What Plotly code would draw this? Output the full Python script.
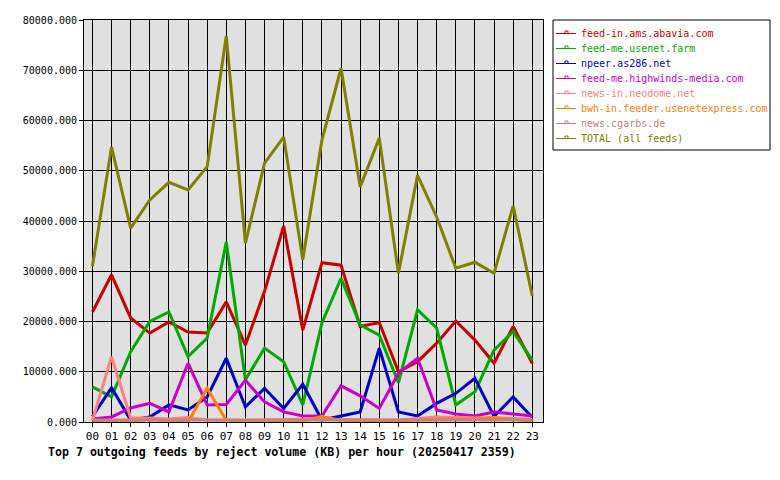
import plotly.graph_objects as go

hours = list(range(24))
hour_labels = [f"{h:02d}" for h in hours]

names = [
    "feed-in.ams.abavia.com",
    "feed-me.usenet.farm",
    "npeer.as286.net",
    "feed-me.highwinds-media.com",
    "news-in.neodome.net",
    "bwh-in.feeder.usenetexpress.com",
    "news.cgarbs.de",
    "TOTAL (all feeds)",
]
colors = ["#cc0000", "#00aa00", "#0000cc", "#cc00cc", "#ff8080", "#ff8000", "#c88080", "#808000"]

abavia = [21900, 29300, 20700, 17700, 19900, 17900, 17700, 23900, 15300, 26000, 39000, 18300,
          31700, 31200, 19000, 19800, 10000, 12000, 15700, 20100, 16300, 11700, 19000, 11700]
usenetfarm = [7000, 5000, 14000, 20000, 21900, 13000, 16700, 35800, 8400, 14700, 12000, 3400,
              19700, 28600, 19300, 17300, 7800, 22300, 18700, 3400, 6000, 14300, 18000, 12300]
as286 = [1100, 6800, 400, 1000, 3400, 2400, 5000, 12700, 3000, 6700, 2700, 7500,
         400, 1200, 2000, 14700, 2000, 1200, 3700, 5700, 8700, 1100, 5000, 900]
highwinds = [600, 1000, 2800, 3700, 2000, 11700, 3400, 3500, 8300, 4000, 2000, 1200,
             1200, 7200, 5200, 2700, 9700, 12700, 2400, 1600, 1200, 2000, 1600, 1200]
neodome = [300, 13000, 800, 800, 600, 900, 400, 300, 300, 400, 500, 600,
           600, 500, 400, 400, 400, 700, 1000, 900, 800, 800, 600, 600]
usenetexpress = [0, 300, 200, 500, 200, 0, 6700, 300, 100, 200, 300, 200,
                 1100, 300, 100, 300, 200, 400, 500, 500, 600, 900, 500, 200]
cgarbs = [400, 400, 350, 400, 350, 400, 400, 350, 400, 350, 400, 400,
          350, 400, 350, 400, 350, 400, 400, 400, 400, 350, 350, 400]
total = [31000, 54700, 38600, 44200, 47700, 46200, 50800, 76800, 35600, 51500, 56700, 32300,
         56100, 70400, 46800, 56500, 29600, 49100, 40800, 30600, 31800, 29600, 43000, 25100]

series = [abavia, usenetfarm, as286, highwinds, neodome, usenetexpress, cgarbs, total]

# plot area in pixels
L, R, T, B = 84, 543, 20, 422
W, H = 780, 480


def px(x):
    return (x - L) / (R - L)


def py(y):
    return (B - y) / (B - T)


fig = go.Figure()
for name, col, vals in zip(names, colors, series):
    fig.add_trace(go.Scatter(x=hours, y=vals, mode="lines", name=name,
                             line=dict(color=col, width=3), showlegend=False))

mono = "DejaVu Sans Mono"
shapes = []
annotations = []
# legend box
shapes.append(dict(type="rect", xref="paper", yref="paper", x0=px(553), x1=px(770),
                   y0=py(150), y1=py(20), line=dict(color="black", width=1),
                   fillcolor="white", layer="above"))
for i, (name, col) in enumerate(zip(names, colors)):
    yy = 33.5 + 15 * i
    shapes.append(dict(type="line", xref="paper", yref="paper", x0=px(556), x1=px(576),
                       y0=py(yy), y1=py(yy), line=dict(color=col, width=1), layer="above"))
    shapes.append(dict(type="rect", xref="paper", yref="paper", x0=px(565), x1=px(568),
                       y0=py(yy), y1=py(yy - 2.5), line=dict(color=col, width=1), layer="above"))
    annotations.append(dict(text=name, xref="paper", yref="paper", x=px(579), y=py(yy),
                            xanchor="left", yanchor="middle", showarrow=False,
                            font=dict(family=mono, size=10, color=col)))

annotations.append(dict(text="<b>Top 7 outgoing feeds by reject volume (KB) per hour (20250417 2359)</b>",
                        xref="paper", yref="paper", x=px(46), y=py(452), xanchor="left",
                        yanchor="middle", showarrow=False,
                        font=dict(family=mono, size=11.6, color="black")))

fig.update_layout(
    width=W, height=H,
    margin=dict(l=L, r=W - R, t=T, b=H - B),
    paper_bgcolor="white", plot_bgcolor="#e0e0e0",
    font=dict(family=mono, size=10, color="black"),
    shapes=shapes, annotations=annotations, showlegend=False,
)
fig.update_xaxes(range=[-0.44, 23.56], tickvals=hours, ticktext=hour_labels,
                 showgrid=True, gridcolor="black", gridwidth=1, zeroline=False,
                 showline=True, linecolor="black", linewidth=1, mirror=True,
                 ticks="outside", ticklen=4, tickcolor="black",
                 tickfont=dict(family=mono, size=11))
fig.update_yaxes(range=[0, 80000], dtick=10000, tickformat=".3f",
                 showgrid=True, gridcolor="black", gridwidth=1, zeroline=False,
                 showline=True, linecolor="black", linewidth=1, mirror=True,
                 ticks="outside", ticklen=4, tickcolor="black",
                 tickfont=dict(family=mono, size=10))

fig.write_html("out.html")
